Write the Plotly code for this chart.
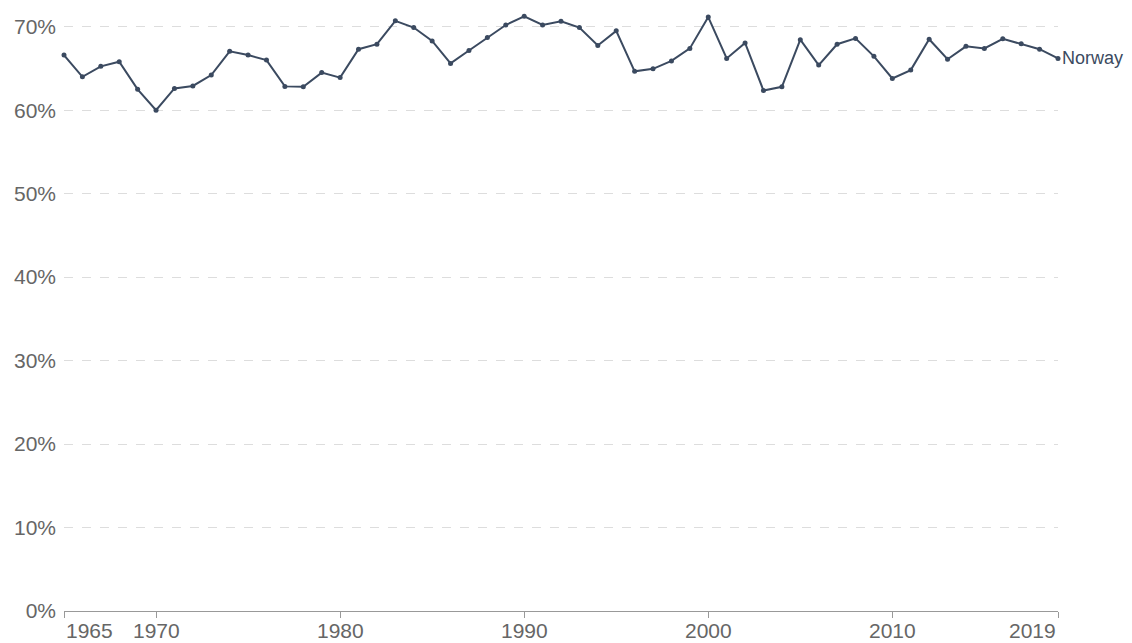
import plotly.graph_objects as go

years = list(range(1965, 2020))
norway = [66.6, 64.0, 65.25, 65.8, 62.5, 60.0, 62.6, 62.9, 64.2, 67.05,
          66.6, 66.0, 62.85, 62.8, 64.5, 63.9, 67.3, 67.9, 70.7, 69.9,
          68.3, 65.6, 67.15, 68.7, 70.2, 71.25, 70.2, 70.65, 69.9, 67.75,
          69.5, 64.65, 64.95, 65.9, 67.4, 71.15, 66.2, 68.05, 62.35, 62.8,
          68.45, 65.4, 67.9, 68.6, 66.45, 63.8, 64.8, 68.5, 66.1, 67.65,
          67.4, 68.55, 67.95, 67.3, 66.2]
series_name = "Norway"

x_tick_vals = [1965, 1970, 1980, 1990, 2000, 2010, 2019]
x_tick_text = ["1965", "1970", "1980", "1990", "2000", "2010", "2019"]
y_tick_vals = [0, 10, 20, 30, 40, 50, 60, 70]
y_tick_text = ["0%", "10%", "20%", "30%", "40%", "50%", "60%", "70%"]

line_color = "#3b4a60"
text_gray = "#666666"
font_family = "Liberation Sans, Arial, sans-serif"

fig = go.Figure()
fig.add_trace(go.Scatter(
    x=years, y=norway, mode="lines+markers", name=series_name,
    line=dict(color=line_color, width=2),
    marker=dict(color=line_color, size=5),
    showlegend=False, cliponaxis=False,
))

annotations = []
for v, t in zip(x_tick_vals, x_tick_text):
    if v == x_tick_vals[0]:
        anchor = "left"
    elif v == x_tick_vals[-1]:
        anchor = "right"
    else:
        anchor = "center"
    annotations.append(dict(
        x=v, y=0, xref="x", yref="paper", text=t, showarrow=False,
        xanchor=anchor, yanchor="top", yshift=-6,
        font=dict(family=font_family, size=21, color=text_gray),
    ))
annotations.append(dict(
    x=years[-1], y=norway[-1], xref="x", yref="y", text=series_name,
    showarrow=False, xanchor="left", yanchor="middle", xshift=2,
    font=dict(family=font_family, size=18, color=line_color),
))

fig.update_layout(
    width=1124, height=635,
    margin=dict(l=56, r=74, t=2, b=32, autoexpand=False),
    paper_bgcolor="white", plot_bgcolor="white",
    font=dict(family=font_family, color=text_gray),
    annotations=annotations,
    xaxis=dict(
        range=[1965, 2019], tickvals=x_tick_vals, showticklabels=False,
        showgrid=False, zeroline=False, showline=True, linecolor="#999999",
        linewidth=1, ticks="outside", ticklen=6, tickcolor="#999999",
        automargin=False,
    ),
    yaxis=dict(
        range=[0, 72], tickmode="array", tickvals=y_tick_vals,
        ticktext=y_tick_text,
        showgrid=True, gridcolor="#dddddd", griddash="dash", gridwidth=1,
        zeroline=False, showline=False, ticks="",
        tickfont=dict(family=font_family, size=21, color=text_gray),
        ticklabelstandoff=7, automargin=False,
    ),
)

fig.write_html("out.html")
